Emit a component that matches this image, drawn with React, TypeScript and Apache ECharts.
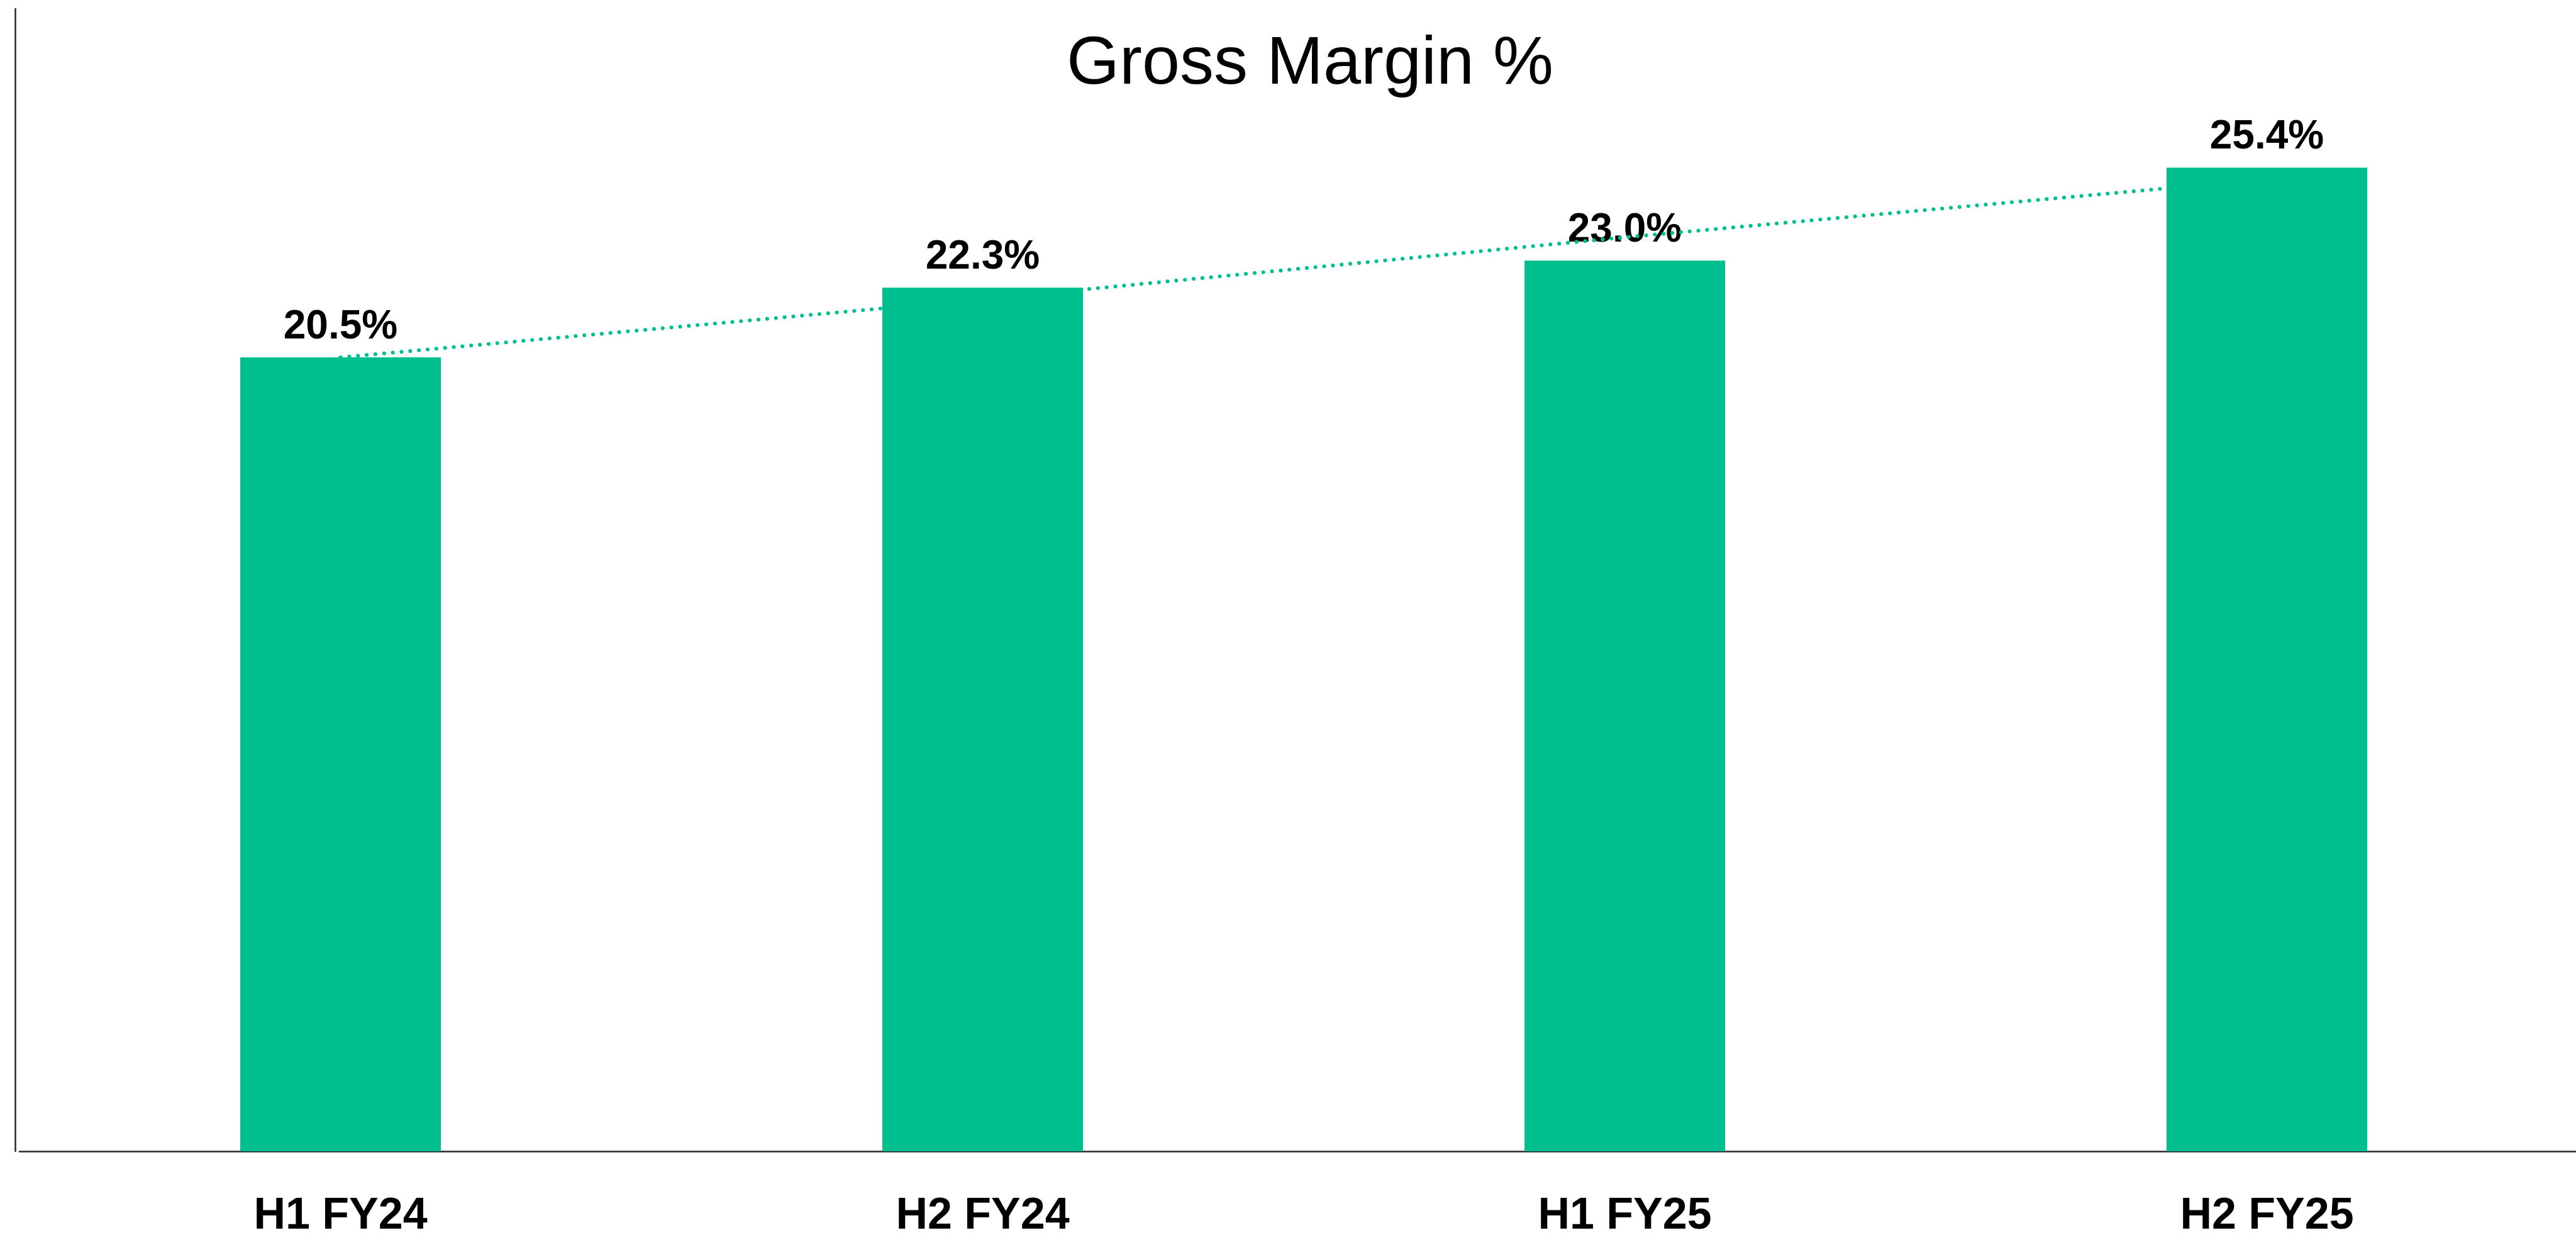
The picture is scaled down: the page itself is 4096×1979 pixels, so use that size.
import React, { useEffect, useRef } from "react";
import * as echarts from "echarts";

const TITLE = "Gross Margin %";
const CATEGORIES = ["H1 FY24", "H2 FY24", "H1 FY25", "H2 FY25"];
const MARGIN = [20.5, 22.3, 23.0, 25.4];
const TREND = [20.5, 22.0, 23.6, 25.1];
const Y_MIN = 0;
const Y_MAX = 29.5;

const GREEN = "#00BF8F";
const FONT = "'Liberation Sans', Arial, sans-serif";

export default function App() {
  const ref = useRef<HTMLDivElement>(null);

  useEffect(() => {
    if (!ref.current) return;
    const chart = echarts.init(ref.current, undefined, { renderer: "svg" });
    chart.setOption({
      animation: false,
      backgroundColor: "#ffffff",
      title: {
        text: TITLE,
        left: 2083,
        top: 41,
        padding: 0,
        textAlign: "center",
        textStyle: {
          fontFamily: FONT,
          fontSize: 108,
          fontWeight: "normal",
          color: "#000000",
        },
      },
      grid: {
        left: 31,
        top: 14,
        width: 4084,
        height: 1816,
        containLabel: false,
        outerBoundsMode: "none",
      },
      xAxis: {
        type: "category",
        data: CATEGORIES,
        axisLine: { show: true, lineStyle: { color: "#262626", width: 2.5 } },
        axisTick: { show: false },
        axisLabel: {
          margin: 64,
          fontFamily: FONT,
          fontSize: 70,
          fontWeight: "bold",
          color: "#000000",
        },
        splitLine: { show: false },
      },
      yAxis: {
        type: "value",
        min: Y_MIN,
        max: Y_MAX,
        offset: 7,
        axisLine: { show: true, lineStyle: { color: "#262626", width: 2.5 } },
        axisTick: { show: false },
        axisLabel: { show: false },
        splitLine: { show: false },
      },
      series: [
        {
          type: "bar",
          data: MARGIN,
          barWidth: 319,
          itemStyle: { color: GREEN },
          label: {
            show: true,
            position: "top",
            distance: 20,
            formatter: (p: any) => Number(p.value).toFixed(1) + "%",
            fontFamily: FONT,
            fontSize: 64,
            fontWeight: "bold",
            color: "#000000",
          },
          z: 2,
        },
        {
          type: "line",
          data: TREND,
          symbol: "none",
          silent: true,
          lineStyle: {
            color: GREEN,
            width: 6,
            type: [0.1, 13.8],
            cap: "round",
          },
          z: 5,
        },
      ],
    });
    return () => chart.dispose();
  }, []);

  return (
    <div
      ref={ref}
      style={{ position: "fixed", left: 0, top: 0, width: 4096, height: 1979 }}
    />
  );
}
